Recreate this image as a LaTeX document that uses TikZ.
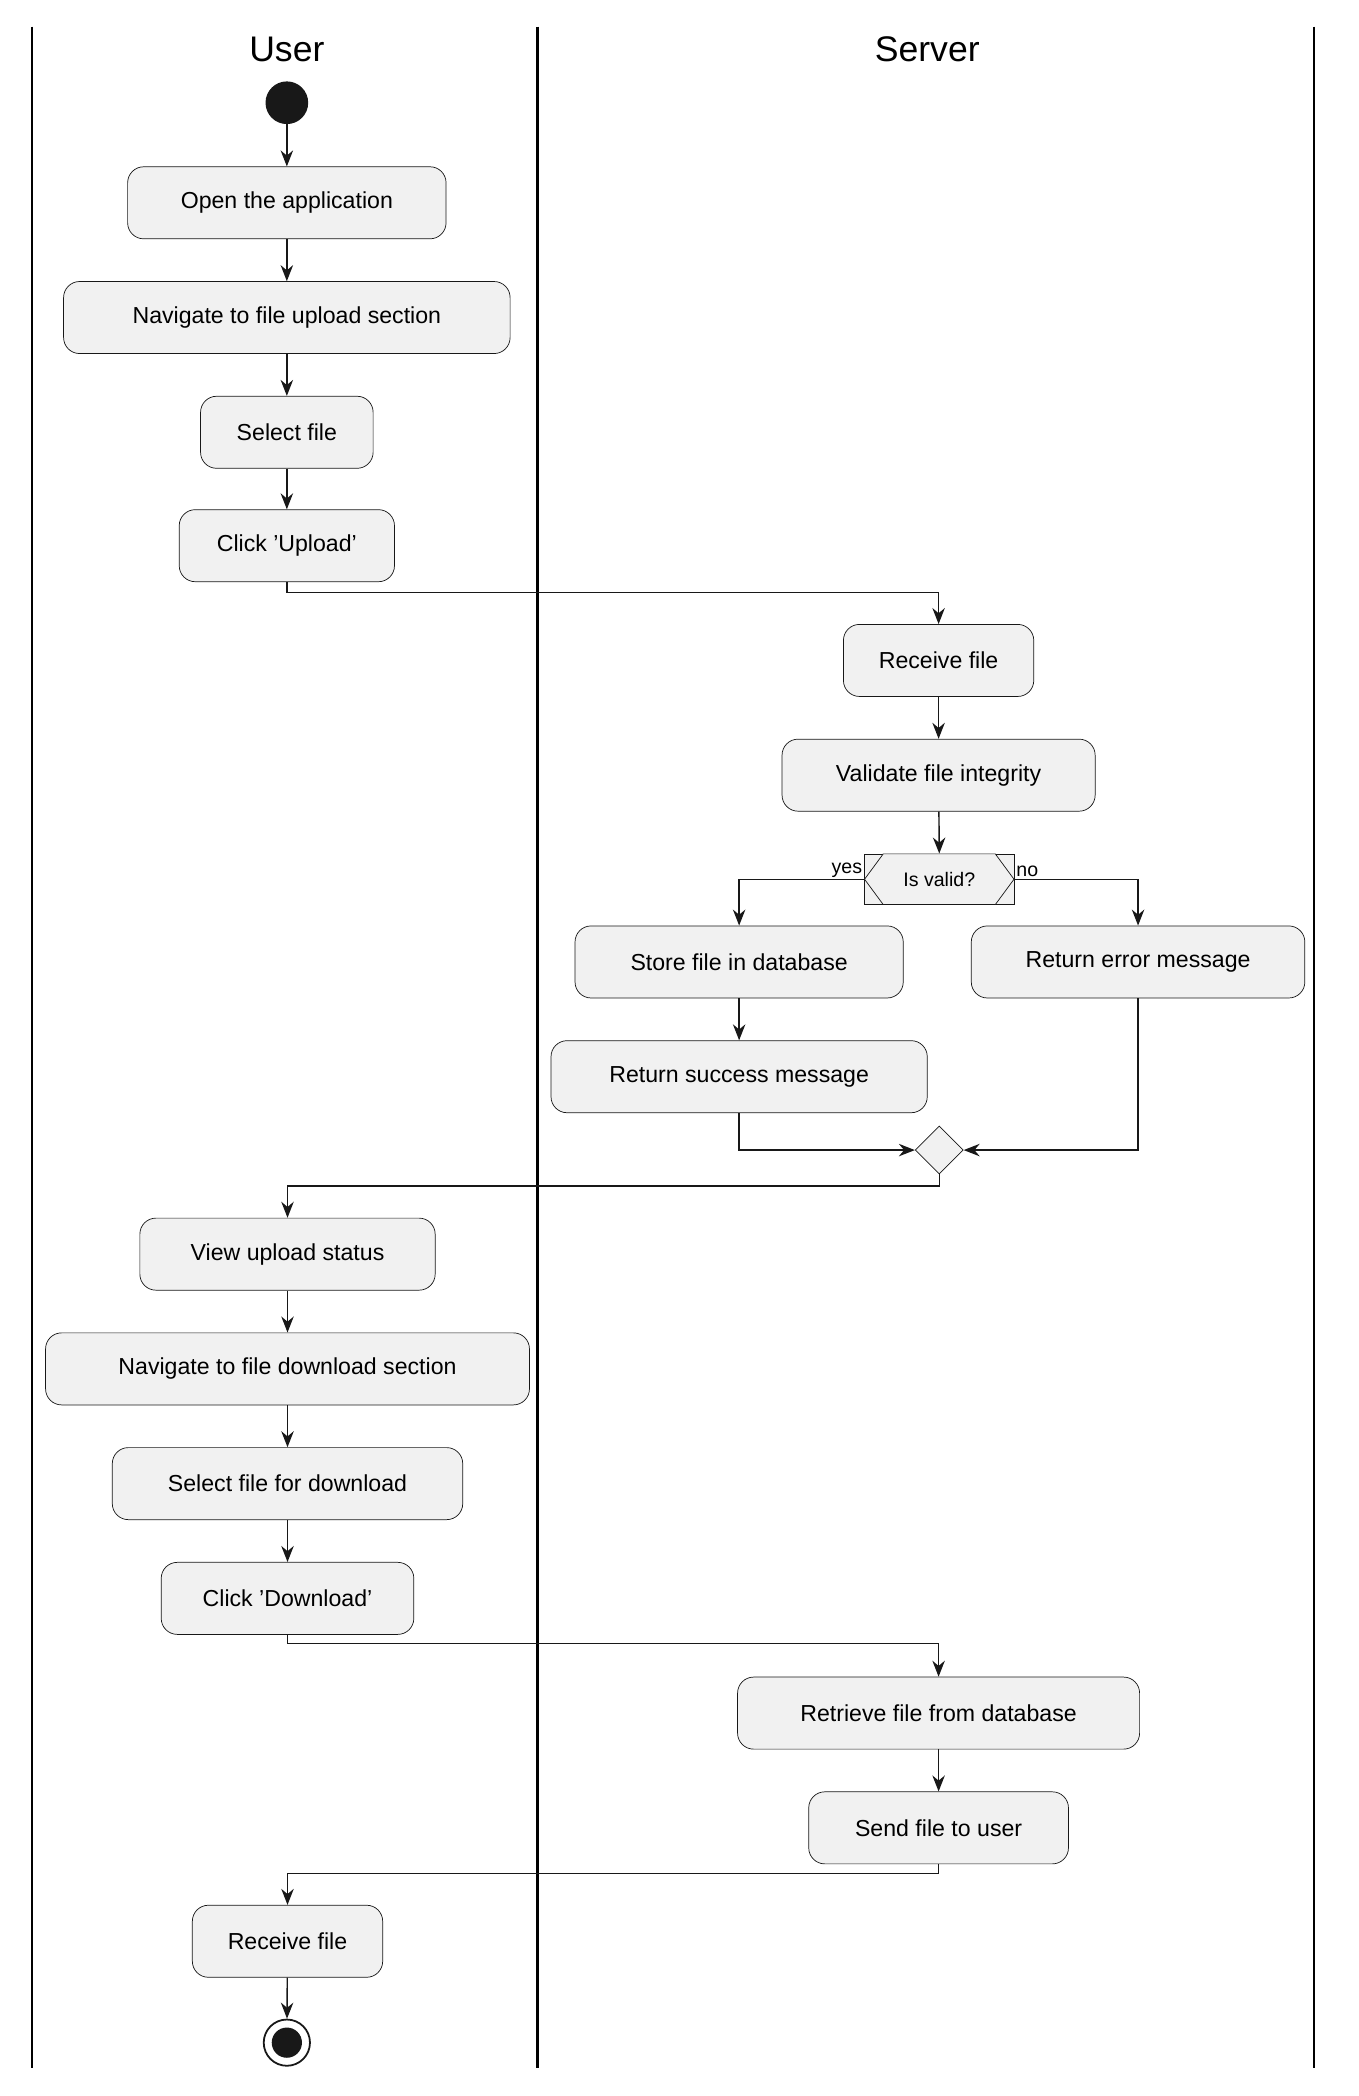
\documentclass[tikz,border=0pt]{standalone}
\usepackage{fontspec}
\setmainfont{Liberation Sans}
\usetikzlibrary{arrows.meta,shapes.geometric}
\definecolor{actfill}{HTML}{F1F1F1}
\definecolor{ink}{HTML}{181818}
\tikzset{
  act/.style={draw=ink,fill=actfill,rounded corners=9pt,minimum height=40.5pt,inner sep=0pt,font=\fontsize{13}{15}\selectfont},
  flow/.style={draw=ink,line width=0.8pt,-{Stealth[length=9pt,width=7pt]}},
  lane/.style={draw=black,line width=1.4pt}
}
\begin{document}
\begin{tikzpicture}[x=0.75pt,y=-0.75pt]
\useasboundingbox (0,0) rectangle (1018,1571);

% swimlanes
\draw[lane] (24,20) -- (24,1550);
\draw[lane] (403,20) -- (403,1550);
\draw[lane] (985,20) -- (985,1550);
\node[font=\fontsize{20}{24}\selectfont] (tuser) at (215,37) {User};
\node[font=\fontsize{20}{24}\selectfont] (tserver) at (695,37) {Server};

% user lane
\node[circle,fill=ink,minimum size=24pt,inner sep=0pt] (start) at (215,77) {};
\node[act,minimum width=179pt] (open) at (215,152) {Open the application};
\node[act,minimum width=251pt] (navup) at (215,238) {Navigate to file upload section};
\node[act,minimum width=97pt] (sel) at (215,324) {Select file};
\node[act,minimum width=121pt] (clup) at (215,409) {Click 'Upload'};

% server lane
\node[act,minimum width=107pt] (recv) at (703.5,495) {Receive file};
\node[act,minimum width=176pt] (valid) at (703.5,581) {Validate file integrity};
\node[draw=ink,fill=actfill,minimum width=84pt,minimum height=28.5pt,inner sep=0pt,
  font=\fontsize{11}{13}\selectfont,
  path picture={}] (isv) at (704,659) {};
\fill[actfill] (648,659) -- (662,640) -- (746,640) -- (760,659) -- (746,678) -- (662,678) -- cycle;
\draw[ink] (648,659) -- (662,640) -- (746,640) -- (760,659) -- (746,678) -- (662,678) -- cycle;
\node[font=\fontsize{11}{13}\selectfont] at (704,659) {Is valid?};
\node[act,minimum width=184.5pt] (store) at (554,721) {Store file in database};
\node[act,minimum width=187.5pt] (err) at (853,721) {Return error message};
\node[act,minimum width=211.5pt] (succ) at (554,807) {Return success message};
\node[diamond,draw=ink,fill=actfill,minimum size=27pt,inner sep=0pt] (merge) at (704,862) {};

% back in user lane
\node[act,minimum width=166pt] (view) at (215.5,940) {View upload status};
\node[act,minimum width=272pt] (navdn) at (215.5,1026) {Navigate to file download section};
\node[act,minimum width=197pt] (seldn) at (215.5,1112) {Select file for download};
\node[act,minimum width=142pt] (cldn) at (215.5,1198) {Click 'Download'};
\node[act,minimum width=226pt] (retr) at (703.5,1284) {Retrieve file from database};
\node[act,minimum width=146pt] (send) at (703.5,1370) {Send file to user};
\node[act,minimum width=107pt] (rcvu) at (215.5,1455) {Receive file};
\node[circle,draw=ink,line width=1pt,minimum size=26pt,inner sep=0pt] (stop) at (215,1531) {};
\fill[ink] (stop) circle (8.5pt);

% connectors
\draw[flow] (start) -- (open);
\draw[flow] (open) -- (navup);
\draw[flow] (navup) -- (sel);
\draw[flow] (sel) -- (clup);
\draw[flow] (clup.south) |- (703.5,444) -- (recv.north);
\draw[flow] (recv) -- (valid);
\draw[flow] (valid) -- (isv.north);
\draw[flow] (isv.west) -| (store.north);
\draw[flow] (isv.east) -| (err.north);
\node[font=\fontsize{11}{13}\selectfont,anchor=south east,inner sep=1pt] at (isv.west) {yes};
\node[font=\fontsize{11}{13}\selectfont,anchor=south west,inner sep=1pt] at (isv.east) {no};
\draw[flow] (store) -- (succ);
\draw[flow] (succ.south) |- (merge.west);
\draw[flow] (err.south) |- (merge.east);
\draw[flow] (merge.south) |- (215.5,889) -- (view.north);
\draw[flow] (view) -- (navdn);
\draw[flow] (navdn) -- (seldn);
\draw[flow] (seldn) -- (cldn);
\draw[flow] (cldn.south) |- (703.5,1232) -- (retr.north);
\draw[flow] (retr) -- (send);
\draw[flow] (send.south) |- (215.5,1404) -- (rcvu.north);
\draw[flow] (rcvu) -- (stop);
\end{tikzpicture}
\end{document}
